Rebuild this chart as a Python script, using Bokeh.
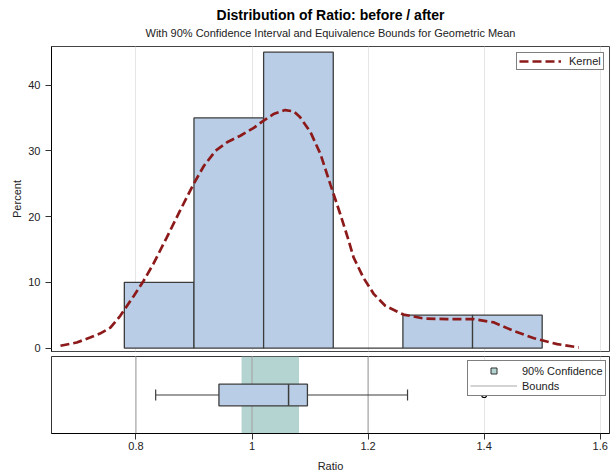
from bokeh.plotting import figure
from bokeh.layouts import column
from bokeh.models import (Range1d, Legend, LegendItem, Title, ColumnDataSource, FixedTicker)
from bokeh.embed import file_html
from bokeh.resources import INLINE

# ---- data ----
bin_left = [0.78, 0.90, 1.02, 1.14, 1.26, 1.38]
bin_right = [0.90, 1.02, 1.14, 1.26, 1.38, 1.50]
bin_percent = [10, 35, 45, 0, 5, 5]

kernel_x = [0.670, 0.698, 0.721, 0.738, 0.756, 0.773, 0.796, 0.813, 0.830, 0.853,
            0.876, 0.899, 0.917, 0.937, 0.957, 0.980, 1.003, 1.020, 1.037, 1.057,
            1.072, 1.083, 1.101, 1.118, 1.135, 1.152, 1.166, 1.175, 1.192, 1.210,
            1.230, 1.261, 1.296, 1.336, 1.382, 1.417, 1.451, 1.486, 1.526, 1.563]
kernel_y = [0.35, 0.85, 1.6, 2.2, 3.1, 4.9, 7.9, 10.2, 12.8, 16.8,
            20.9, 24.9, 27.7, 30.0, 31.3, 32.3, 33.5, 34.6, 35.6, 36.2,
            36.0, 35.1, 32.8, 29.5, 24.9, 20.4, 16.5, 13.8, 10.7, 8.2,
            6.4, 5.1, 4.5, 4.4, 4.4, 3.9, 2.6, 1.5, 0.6, 0.1]

box_low = [0.834]
box_q1 = [0.943]
box_median = [1.063]
box_q3 = [1.0955]
box_high = [1.268]
outliers = [1.40]

ci_lower = [0.982]
ci_upper = [1.081]
bounds = [0.8, 1.0, 1.2]

x_ticks = [0.8, 1.0, 1.2, 1.4, 1.6]
y_ticks = [0, 10, 20, 30, 40]

FONT = "Liberation Sans"
BAR_FILL = "#B9CEE6"
EDGE = "#3C3C3C"
KERNEL = "#8C1A1A"
TEAL = "#B3D4D1"
GRID = "#E6E6E6"

xr = Range1d(0.6545, 1.616)

# ---- top panel ----
p1 = figure(width=613, height=355, x_range=xr, y_range=Range1d(-0.52, 45.87),
            output_backend="svg", toolbar_location=None,
            min_border_left=51, min_border_right=4, min_border_top=46, min_border_bottom=4)
p1.title.text = "Distribution of Ratio: before / after"
p1.title.align = "center"
p1.title.text_font = FONT
p1.title.text_font_size = "14px"
p1.title.text_font_style = "bold"
p1.title.text_color = "black"
p1.title.standoff = -1.7
p1.title.vertical_align = "bottom"
p1.add_layout(Title(text="With 90% Confidence Interval and Equivalence Bounds for Geometric Mean",
                    align="center", text_font=FONT, text_font_size="11px",
                    text_font_style="normal", text_color="#222222", standoff=9.7,
                    vertical_align="top"), "above")

p1.xaxis.visible = False
p1.ygrid.visible = False
p1.xgrid.ticker = FixedTicker(ticks=x_ticks)
p1.xgrid.grid_line_color = GRID
p1.outline_line_color = "#444444"
p1.outline_line_width = 1

ya = p1.yaxis[0]
ya.ticker = FixedTicker(ticks=y_ticks)
ya.axis_label = "Percent"
ya.axis_label_text_font = FONT
ya.axis_label_text_font_size = "11px"
ya.axis_label_text_font_style = "normal"
ya.axis_label_text_color = "#222222"
ya.major_label_text_font = FONT
ya.major_label_text_font_size = "11px"
ya.major_label_text_color = "#222222"
ya.major_tick_out = 6
ya.major_tick_in = 0
ya.minor_tick_out = 0
ya.minor_tick_in = 0
ya.axis_line_color = "black"
ya.major_tick_line_color = "#333333"
ya.axis_label_standoff = 2

p1.quad(left=bin_left, right=bin_right, bottom=0, top=bin_percent,
        fill_color=BAR_FILL, line_color=EDGE, line_width=1.3)
kr = p1.line(kernel_x, kernel_y, line_color=KERNEL, line_width=2.7, line_dash="9 4")

leg1 = Legend(items=[LegendItem(label="Kernel", renderers=[kr])],
              location=(465, 281), border_line_color="black", border_line_width=1,
              padding=2, spacing=0, glyph_width=42, glyph_height=10, label_height=10,
              label_standoff=8, label_text_font=FONT, label_text_font_size="11px",
              label_text_color="#222222", background_fill_alpha=1, margin=0)
p1.add_layout(leg1)

# ---- bottom panel ----
p2 = figure(width=613, height=119, x_range=xr, y_range=Range1d(0, 1),
            output_backend="svg", toolbar_location=None, title=None,
            min_border_left=51, min_border_right=4, min_border_top=1, min_border_bottom=10)
p2.yaxis.visible = False
p2.ygrid.visible = False
p2.xgrid.ticker = FixedTicker(ticks=x_ticks)
p2.xgrid.grid_line_color = GRID
p2.outline_line_color = "#333333"
p2.outline_line_width = 1

xa = p2.xaxis[0]
xa.ticker = FixedTicker(ticks=x_ticks)
xa.axis_label = "Ratio"
xa.axis_label_text_font = FONT
xa.axis_label_text_font_size = "11px"
xa.axis_label_text_font_style = "normal"
xa.axis_label_text_color = "#222222"
xa.major_label_text_font = FONT
xa.major_label_text_font_size = "11px"
xa.major_label_text_color = "#222222"
xa.major_tick_out = 6
xa.major_tick_in = 0
xa.minor_tick_out = 0
xa.minor_tick_in = 0
xa.axis_line_color = "black"
xa.major_tick_line_color = "#333333"
xa.axis_label_standoff = 7
xa.major_label_standoff = 2

p2.quad(left=ci_lower, right=ci_upper, bottom=0, top=1, fill_color=TEAL, line_color=None)
br = p2.segment(x0=bounds, x1=bounds, y0=0, y1=1, line_color="#A8A8A8", line_width=1.2)

# box plot
p2.segment(x0=box_low, x1=box_q1, y0=0.5, y1=0.5, line_color=EDGE, line_width=1.2)
p2.segment(x0=box_q3, x1=box_high, y0=0.5, y1=0.5, line_color=EDGE, line_width=1.2)
p2.segment(x0=box_low, x1=box_low, y0=0.43, y1=0.57, line_color=EDGE, line_width=1.2)
p2.segment(x0=box_high, x1=box_high, y0=0.43, y1=0.57, line_color=EDGE, line_width=1.2)
p2.quad(left=box_q1, right=box_q3, bottom=0.36, top=0.64,
        fill_color=BAR_FILL, line_color=EDGE, line_width=1.3)
p2.segment(x0=box_median, x1=box_median, y0=0.36, y1=0.64, line_color=EDGE, line_width=1.5)

# legend swatch for the confidence band (hidden on the plot, drawn only in the legend)
ci_src = ColumnDataSource(data=dict(x=ci_lower, y=[0.5]))
proxy = p2.scatter(x="x", y="y", source=ci_src, marker="square", size=9,
                   fill_color=TEAL, line_color="#333333")
proxy.visible = False

leg2 = Legend(items=[LegendItem(label="90% Confidence", renderers=[proxy]),
                     LegendItem(label="Bounds", renderers=[br])],
              location=(416, 37), border_line_color="black", border_line_width=1,
              padding=2, spacing=0, glyph_width=47, glyph_height=15, label_height=14,
              label_standoff=5, label_text_font=FONT, label_text_font_size="11px",
              label_text_color="#222222", background_fill_alpha=1, margin=0,
              inactive_fill_alpha=0)
p2.add_layout(leg2)

p2.scatter(x=outliers, y=[0.5] * len(outliers), marker="circle", size=5,
           fill_color="white", line_color="black", line_width=1.2, level="overlay")

layout = column(p1, p2, spacing=0)
open("out.html", "w").write(file_html(layout, INLINE))
